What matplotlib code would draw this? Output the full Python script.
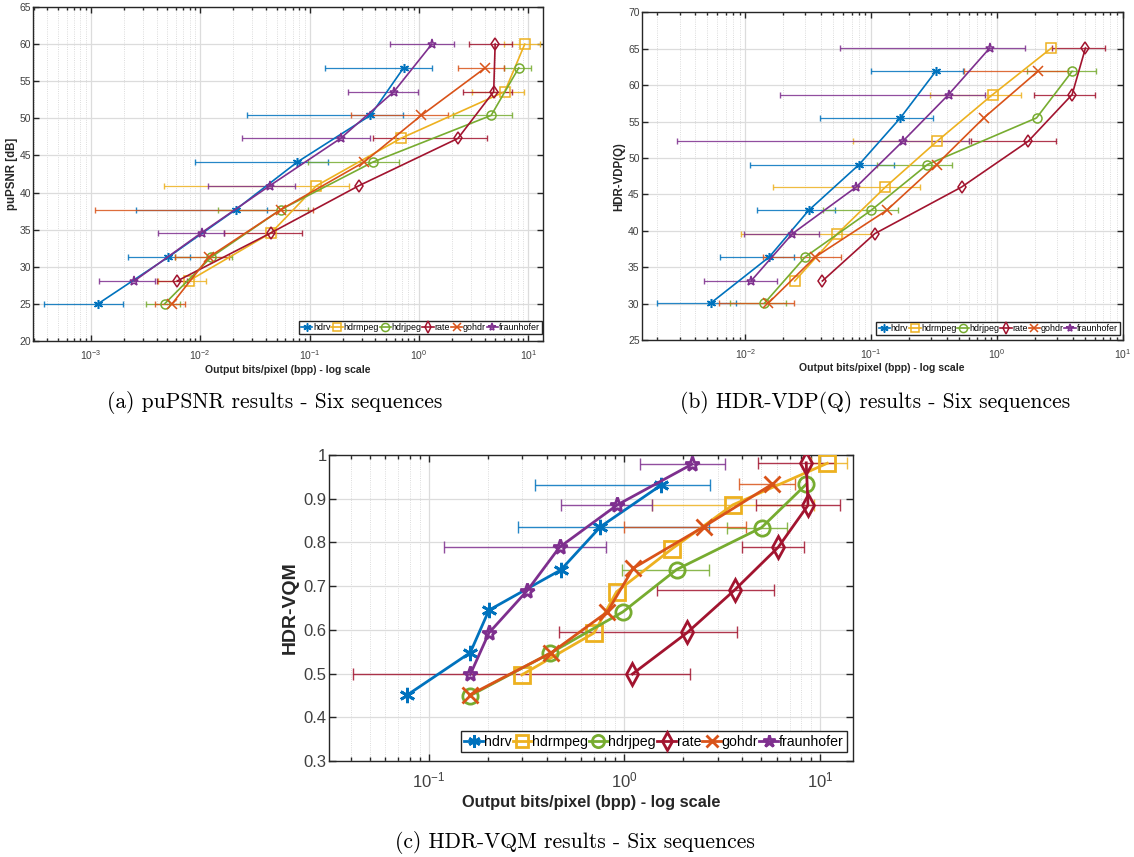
import numpy as np
import matplotlib
matplotlib.use('Agg')
import matplotlib.pyplot as plt
from matplotlib import font_manager
from matplotlib.ticker import LogLocator, MultipleLocator, NullFormatter, FormatStrFormatter

nan = np.nan

# pick a narrow sans font if there is one
names = set(f.name for f in font_manager.fontManager.ttflist)
sans = 'Liberation Sans Narrow' if 'Liberation Sans Narrow' in names else 'Liberation Sans'
plt.rcParams['font.family'] = [sans, 'DejaVu Sans']
plt.rcParams['mathtext.fontset'] = 'custom'
plt.rcParams['mathtext.rm'] = sans

methods = ['hdrv', 'hdrmpeg', 'hdrjpeg', 'rate', 'gohdr', 'fraunhofer']
colors = ['#0072BD', '#EDB120', '#77AC30', '#A2142F', '#D95319', '#7E2F8E']
markers = [(6, 2, 0), 's', 'o', 'd', 'x', '*']

# (a) puPSNR - one row per method
psnr_bpp = [
    [1.16e-3, 5.1e-3, 0.0211, 0.0769, 0.36, 0.723],
    [7.86e-3, 0.0447, 0.115, 0.681, 6.08, 9.27],
    [4.72e-3, 0.0126, 0.0545, 0.378, 4.57, 8.17],
    [6.18e-3, 0.0447, 0.28, 2.27, 4.82, 4.97],
    [5.52e-3, 0.012, 0.0545, 0.314, 1.05, 4.03],
    [2.5e-3, 0.0103, 0.043, 0.192, 0.59, 1.31],
]
psnr_db = [
    [25.0, 31.3, 37.7, 44.1, 50.4, 56.8],
    [28.1, 34.6, 40.9, 47.3, 53.6, 60.0],
    [25.0, 31.3, 37.7, 44.1, 50.4, 56.8],
    [28.1, 34.6, 40.9, 47.3, 53.6, 60.0],
    [25.0, 31.3, 37.7, 44.1, 50.4, 56.8],
    [28.1, 34.6, 40.9, 47.3, 53.6, 60.0],
]
psnr_lo = [
    [3.76e-4, 2.2e-3, 2.6e-3, 8.9e-3, 0.0268, 0.138],
    [4.1e-3, nan, 4.68e-3, nan, 3.07, 6.0],
    [3.2e-3, 5.9e-3, 0.0144, 0.0964, 2.03, 6.0],
    [4.0e-3, 0.0164, nan, 0.382, 2.55, 2.87],
    [3.85e-3, 5.9e-3, 1.08e-3, nan, 0.241, 2.27],
    [1.18e-3, 4.1e-3, 0.0119, 0.0243, 0.225, 0.54],
]
psnr_hi = [
    [1.97e-3, 8.0e-3, 0.0406, 0.146, 0.718, 1.32],
    [0.0113, nan, 0.229, nan, 9.14, 12.8],
    [6.5e-3, 0.0195, 0.0964, 0.657, 7.13, 10.6],
    [7.5e-3, 0.086, nan, 4.2, 7.13, 7.13],
    [7.2e-3, 0.0184, 0.108, nan, 1.84, 6.0],
    [3.85e-3, 0.0164, 0.073, 0.36, 0.98, 2.08],
]

# (b) HDR-VDP(Q)
vdp_bpp = [
    [5.3e-3, 0.0155, 0.0319, 0.0804, 0.171, 0.327],
    [0.0247, 0.054, 0.130, 0.335, 0.926, 2.72],
    [0.0142, 0.0299, 0.100, 0.281, 2.07, 3.97],
    [0.041, 0.107, 0.524, 1.78, 3.97, 5.07],
    [0.0152, 0.036, 0.133, 0.332, 0.788, 2.12],
    [0.0111, 0.0237, 0.076, 0.179, 0.413, 0.879],
]
vdp_q = [
    [30.05, 36.4, 42.8, 49.1, 55.5, 61.9],
    [33.1, 39.6, 46.0, 52.3, 58.7, 65.1],
    [30.05, 36.4, 42.8, 49.1, 55.5, 61.9],
    [33.1, 39.6, 46.0, 52.3, 58.7, 65.1],
    [30.05, 36.4, 42.8, 49.1, 55.5, 61.9],
    [33.1, 39.6, 46.0, 52.3, 58.7, 65.1],
]
vdp_lo = [
    [1.99e-3, 6.3e-3, 0.0124, 0.0109, 0.0392, 0.1006],
    [nan, 9.3e-3, 0.0165, 0.072, 0.292, nan],
    [7.5e-3, nan, 0.0417, 0.111, nan, 1.75],
    [nan, nan, nan, 0.62, 1.97, 2.75],
    [6.2e-3, 0.0138, nan, nan, nan, 0.55],
    [4.66e-3, 9.7e-3, nan, 2.88e-3, 0.019, 0.0565],
]
vdp_hi = [
    [8.5e-3, 0.0245, 0.0513, 0.151, 0.309, 0.542],
    [nan, 0.0995, 0.243, 0.6, 1.57, nan],
    [0.021, nan, 0.164, 0.444, nan, 6.2],
    [nan, nan, nan, 2.98, 6.0, 7.3],
    [0.0245, 0.058, nan, nan, nan, 3.7],
    [0.0178, 0.0385, nan, 0.6, 0.80, 1.67],
]

# (c) HDR-VQM
vqm_bpp = [
    [0.0776, 0.163, 0.203, 0.473, 0.755, 1.54],
    [0.299, 0.70, 0.912, 1.76, 3.59, 10.9],
    [0.162, 0.415, 0.982, 1.85, 5.03, 8.51],
    [1.10, 2.1, 3.66, 6.12, 8.69, 8.51],
    [0.162, 0.424, 0.818, 1.11, 2.55, 5.69],
    [0.163, 0.203, 0.319, 0.466, 0.921, 2.22],
]
vqm_score = [
    [0.451, 0.548, 0.645, 0.737, 0.836, 0.931],
    [0.497, 0.593, 0.687, 0.786, 0.886, 0.981],
    [0.449, 0.546, 0.641, 0.738, 0.834, 0.933],
    [0.499, 0.594, 0.691, 0.789, 0.885, 0.982],
    [0.451, 0.548, 0.641, 0.741, 0.836, 0.933],
    [0.498, 0.593, 0.690, 0.789, 0.886, 0.979],
]
vqm_lo = [
    [nan, nan, nan, nan, 0.286, 0.351],
    [nan, nan, nan, nan, 1.38, 9.0],
    [nan, nan, nan, 0.975, 3.33, nan],
    [0.0408, 0.463, 1.47, 3.98, 4.7, 4.8],
    [nan, nan, nan, nan, 0.99, 3.85],
    [nan, nan, nan, 0.12, 0.473, 1.2],
]
vqm_hi = [
    [nan, nan, nan, nan, 2.72, 2.75],
    [nan, nan, nan, nan, 9.3, 13.7],
    [nan, nan, nan, 2.72, 6.8, nan],
    [2.16, 3.76, 5.8, 8.3, 12.7, 12.0],
    [nan, nan, nan, nan, 4.2, 7.5],
    [nan, nan, nan, 0.81, 1.38, 3.26],
]


def draw_panel(ax, bpp, val, lo, hi, big=False):
    lw = 2.0 if big else 1.2
    ms = 11 if big else 6.5
    handles = []
    for i in range(len(methods)):
        x = np.array(bpp[i])
        y = np.array(val[i])
        err = np.vstack([x - np.array(lo[i]), np.array(hi[i]) - x])
        ax.errorbar(x, y, xerr=err, fmt='none', ecolor=colors[i], elinewidth=1.0 if big else 0.9,
                    capsize=4 if big else 2.5, alpha=0.85, zorder=2)
        ln, = ax.plot(x, y, color=colors[i], lw=lw, marker=markers[i], ms=ms,
                      mfc='none', mew=2.0 if big else 1.1, label=methods[i], zorder=3)
        handles.append(ln)
    ax.set_xscale('log')
    ax.xaxis.set_major_locator(LogLocator(base=10))
    ax.xaxis.set_minor_locator(LogLocator(base=10, subs=np.arange(2, 10)))
    ax.xaxis.set_minor_formatter(NullFormatter())
    ax.grid(True, which='major', color='#dcdcdc', lw=0.9, ls='-', zorder=0)
    ax.grid(True, which='minor', axis='x', color='#d0d0d0', lw=0.6, ls=':', zorder=0)
    ax.set_axisbelow(True)
    ax.tick_params(which='both', direction='in', top=True, right=True, colors='#262626',
                   labelcolor='#404040', labelsize=12 if big else 7.5, width=1.0)
    ax.tick_params(which='major', length=5 if big else 4)
    ax.tick_params(which='minor', length=3 if big else 2.5)
    ax.tick_params(axis='x', pad=7 if big else 5)
    ax.tick_params(axis='y', pad=2 if big else 1.5)
    for s in ax.spines.values():
        s.set_color('#262626')
        s.set_linewidth(1.0)
    return handles


def add_legend(ax, h, anchor, fs, mscale):
    ax.legend(handles=h, loc='lower right', bbox_to_anchor=anchor, ncol=6, fontsize=fs,
              handlelength=1.3, handletextpad=0.05, columnspacing=0.1, borderpad=0.25,
              borderaxespad=0, fancybox=False, edgecolor='#262626', framealpha=1,
              markerscale=mscale)


fig = plt.figure(figsize=(11.34, 8.57), dpi=100)

# (a)
ax1 = fig.add_axes([0.0294, 0.6021, 0.4494, 0.3897])
h = draw_panel(ax1, psnr_bpp, psnr_db, psnr_lo, psnr_hi)
ax1.set_xlim(2.98e-4, 13.6)
ax1.set_ylim(20, 65)
ax1.yaxis.set_major_locator(MultipleLocator(5))
ax1.set_xlabel('Output bits/pixel (bpp) - log scale', fontsize=7.6, fontweight='bold', color='#262626', labelpad=2)
ax1.set_ylabel('puPSNR [dB]', fontsize=8.3, fontweight='bold', color='#262626', labelpad=1.5)
add_legend(ax1, h, (0.998, 0.02), 6.4, 0.9)

# (b)
ax2 = fig.add_axes([0.5659, 0.6033, 0.4240, 0.3823])
h = draw_panel(ax2, vdp_bpp, vdp_q, vdp_lo, vdp_hi)
ax2.set_xlim(1.5e-3, 10)
ax2.set_ylim(25, 70)
ax2.yaxis.set_major_locator(MultipleLocator(5))
ax2.set_xlabel('Output bits/pixel (bpp) - log scale', fontsize=7.6, fontweight='bold', color='#262626', labelpad=2)
ax2.set_ylabel('HDR-VDP(Q)', fontsize=8.3, fontweight='bold', color='#262626', labelpad=2)
add_legend(ax2, h, (0.994, 0.015), 6.4, 0.9)

# (c)
ax3 = fig.add_axes([0.2904, 0.1120, 0.4615, 0.3571])
h = draw_panel(ax3, vqm_bpp, vqm_score, vqm_lo, vqm_hi, big=True)
ax3.set_xlim(0.031, 14.7)
ax3.set_ylim(0.3, 1.0)
ax3.yaxis.set_major_locator(MultipleLocator(0.1))
ax3.yaxis.set_major_formatter(FormatStrFormatter('%g'))
ax3.set_xlabel('Output bits/pixel (bpp) - log scale', fontsize=11.8, fontweight='bold', color='#262626', labelpad=3)
ax3.set_ylabel('HDR-VQM', fontsize=14, fontweight='bold', color='#262626', labelpad=3)
add_legend(ax3, h, (0.989, 0.029), 10.2, 0.8)

# captions
cap_font = ['cmr10', 'DejaVu Serif']
fig.text(0.2425, 1 - 402 / 857, '(a) puPSNR results - Six sequences', ha='center', va='center',
         fontsize=15.5, family=cap_font)
fig.text(0.7716, 1 - 402 / 857, '(b) HDR-VDP(Q) results - Six sequences', ha='center', va='center',
         fontsize=15.5, family=cap_font)
fig.text(0.5071, 1 - 843 / 857, '(c) HDR-VQM results - Six sequences', ha='center', va='center',
         fontsize=15.5, family=cap_font)

fig.savefig('out.png', dpi=100)
